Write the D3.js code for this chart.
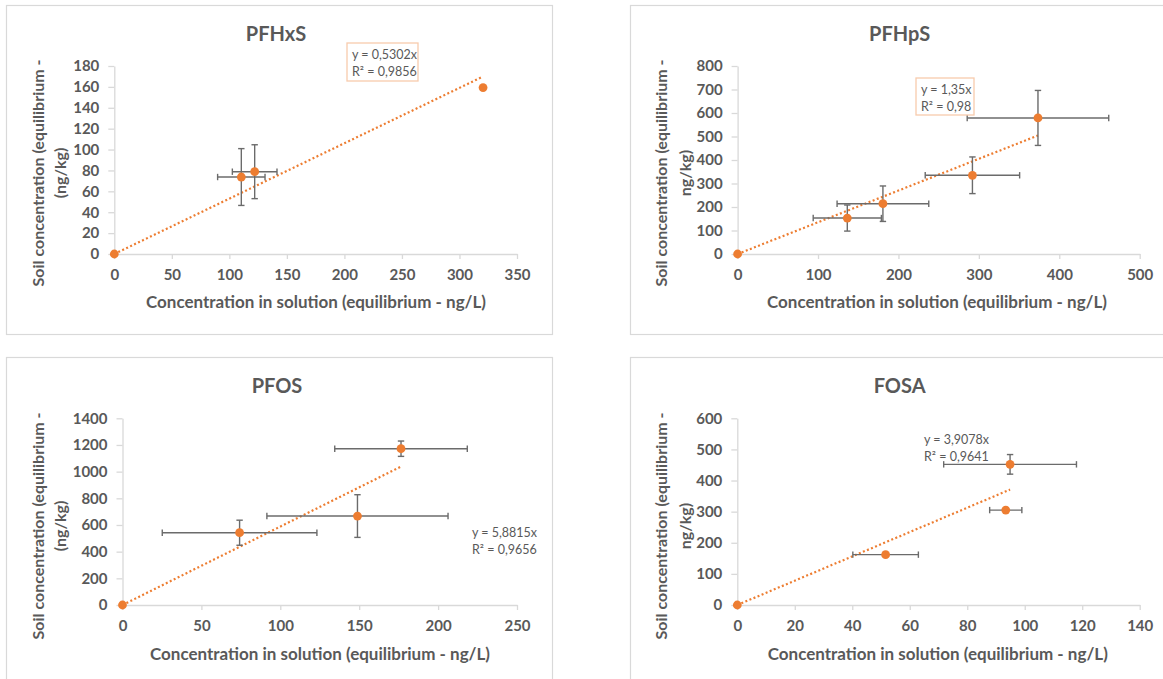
<!DOCTYPE html>
<html>
<head>
<meta charset="utf-8">
<script src="https://cdn.jsdelivr.net/npm/d3@7"></script>
<style>
  html, body { margin: 0; padding: 0; background: #ffffff; }
  svg { display: block; font-family: Lato, "Open Sans", sans-serif; }
</style>
</head>
<body>
<svg id="chart" width="1163" height="679"></svg>
<script>
// ---- Data -------------------------------------------------------------
const panelTitles = ["PFHxS", "PFHpS", "PFOS", "FOSA"];

// PFHxS
const pfhxsX    = [0, 110.4, 122.0, 320.5];
const pfhxsY    = [0, 73.7, 78.8, 159.3];
const pfhxsXErr = [0, 20.6, 19.4, 0];
const pfhxsYErr = [0, 27.2, 25.8, 0];

// PFHpS
const pfhpsX    = [0, 136.4, 180.7, 292.0, 373.5];
const pfhpsY    = [0, 153, 214, 335, 579];
const pfhpsXErr = [0, 42.4, 57.0, 58.7, 88.0];
const pfhpsYErr = [0, 55.5, 75.5, 78.0, 117.0];

// PFOS
const pfosX    = [0, 74.2, 148.9, 176.5];
const pfosY    = [0, 542, 667, 1172];
const pfosXErr = [0, 49.0, 57.4, 42.0];
const pfosYErr = [0, 94, 160, 57.5];

// FOSA
const fosaX    = [0, 51.6, 93.4, 94.9];
const fosaY    = [0, 161.8, 305, 452];
const fosaXErr = [0, 11.4, 5.6, 23.1];
const fosaYErr = [0, 0, 0, 31.5];

// Linear fits through the origin
const slopes      = [0.5302, 1.35, 5.8815, 3.9078];
const slopeLabels = ["0,5302", "1,35", "5,8815", "3,9078"];
const r2Labels    = ["0,9856", "0,98", "0,9656", "0,9641"];

// Axis ticks
const pfhxsXTicks = [0, 50, 100, 150, 200, 250, 300, 350];
const pfhxsYTicks = [0, 20, 40, 60, 80, 100, 120, 140, 160, 180];
const pfhpsXTicks = [0, 100, 200, 300, 400, 500];
const pfhpsYTicks = [0, 100, 200, 300, 400, 500, 600, 700, 800];
const pfosXTicks  = [0, 50, 100, 150, 200, 250];
const pfosYTicks  = [0, 200, 400, 600, 800, 1000, 1200, 1400];
const fosaXTicks  = [0, 20, 40, 60, 80, 100, 120, 140];
const fosaYTicks  = [0, 100, 200, 300, 400, 500, 600];

// Axis titles
const xTitle = "Concentration in solution (equilibrium - ng/L)";
const yTitleLine1 = "Soil concentration (equilibrium -";
const yTitleLine2 = ["(ng/kg)", "ng/kg)", "(ng/kg)", "ng/kg)"];

// ---- Layout -----------------------------------------------------------
const ORANGE = "#ED7D31";
const TEXT = "#595959";
const AXIS = "#d9d9d9";
const ERR = "#6b6b6b";

const panels = [
  { title: panelTitles[0], xs: pfhxsX, ys: pfhxsY, xe: pfhxsXErr, ye: pfhxsYErr,
    xTicks: pfhxsXTicks, yTicks: pfhxsYTicks, slope: slopes[0],
    eq: [slopeLabels[0], r2Labels[0]], y2: yTitleLine2[0],
    frame: [6.5, 5.5, 546, 329], plot: [114.3, 517, 254, 66],
    titleX: 276, titleY: 33, yt1: 37.5, yt2: 59, ytY: 173, xtX: 316, xtY: 301,
    eqX: 352, eqY: 54, box: [347, 43, 71, 38] },
  { title: panelTitles[1], xs: pfhpsX, ys: pfhpsY, xe: pfhpsXErr, ye: pfhpsYErr,
    xTicks: pfhpsXTicks, yTicks: pfhpsYTicks, slope: slopes[1],
    eq: [slopeLabels[1], r2Labels[1]], y2: yTitleLine2[1],
    frame: [630.5, 5.5, 560, 329], plot: [737.6, 1139.7, 254, 66],
    titleX: 899.6, titleY: 33, yt1: 660.8, yt2: 684, ytY: 173, xtX: 937, xtY: 301,
    eqX: 921, eqY: 89, box: [916, 78, 58, 37] },
  { title: panelTitles[2], xs: pfosX, ys: pfosY, xe: pfosXErr, ye: pfosYErr,
    xTicks: pfosXTicks, yTicks: pfosYTicks, slope: slopes[2],
    eq: [slopeLabels[2], r2Labels[2]], y2: yTitleLine2[2],
    frame: [6.5, 357.5, 546, 340], plot: [122.5, 517, 605, 418.3],
    titleX: 277, titleY: 385, yt1: 37.5, yt2: 59, ytY: 526, xtX: 320, xtY: 653,
    eqX: 472, eqY: 532, box: null },
  { title: panelTitles[3], xs: fosaX, ys: fosaY, xe: fosaXErr, ye: fosaYErr,
    xTicks: fosaXTicks, yTicks: fosaYTicks, slope: slopes[3],
    eq: [slopeLabels[3], r2Labels[3]], y2: yTitleLine2[3],
    frame: [630.5, 357.5, 560, 340], plot: [737.3, 1139.7, 605, 418.3],
    titleX: 899.6, titleY: 385, yt1: 660, yt2: 684, ytY: 526, xtX: 937.8, xtY: 653,
    eqX: 924, eqY: 439, box: null }
];

const svg = d3.select("#chart");
const fmt = d3.format("d");

panels.forEach(p => {
  const g = svg.append("g");

  // chart frame
  g.append("rect")
    .attr("x", p.frame[0]).attr("y", p.frame[1])
    .attr("width", p.frame[2]).attr("height", p.frame[3])
    .attr("fill", "#fff").attr("stroke", AXIS).attr("stroke-width", 1.2);

  const x = d3.scaleLinear()
    .domain([p.xTicks[0], p.xTicks[p.xTicks.length - 1]])
    .range([p.plot[0], p.plot[1]]);
  const y = d3.scaleLinear()
    .domain([p.yTicks[0], p.yTicks[p.yTicks.length - 1]])
    .range([p.plot[2], p.plot[3]]);

  // axes
  const xAxis = g.append("g")
    .attr("transform", `translate(0,${p.plot[2]})`)
    .call(d3.axisBottom(x).tickValues(p.xTicks).tickFormat(fmt)
      .tickSize(5).tickSizeOuter(0).tickPadding(10));
  const yAxis = g.append("g")
    .attr("transform", `translate(${p.plot[0]},0)`)
    .call(d3.axisLeft(y).tickValues(p.yTicks).tickFormat(fmt)
      .tickSize(6).tickSizeOuter(0).tickPadding(9));
  [xAxis, yAxis].forEach(a => {
    a.select(".domain").attr("stroke", AXIS).attr("stroke-width", 1.3);
    a.selectAll(".tick line").attr("stroke", AXIS).attr("stroke-width", 1.3);
    a.selectAll(".tick text")
      .attr("fill", TEXT).style("font-size", "15px").style("font-weight", "bold")
      .style("font-family", "Lato, sans-serif");
  });

  // title
  g.append("text")
    .attr("x", p.titleX).attr("y", p.titleY)
    .attr("text-anchor", "middle").attr("dominant-baseline", "central")
    .attr("fill", TEXT).style("font-size", "20px").style("font-weight", "bold")
    .text(p.title);

  // axis titles
  g.append("text")
    .attr("x", p.xtX).attr("y", p.xtY)
    .attr("text-anchor", "middle").attr("dominant-baseline", "central")
    .attr("fill", TEXT).style("font-size", "17px").style("font-weight", "bold")
    .text(xTitle);
  [[p.yt1, yTitleLine1], [p.yt2, p.y2]].forEach(([cx, t]) => {
    g.append("text")
      .attr("transform", `translate(${cx},${p.ytY}) rotate(-90)`)
      .attr("text-anchor", "middle").attr("dominant-baseline", "central")
      .attr("fill", TEXT).style("font-size", "16px").style("font-weight", "bold")
      .text(t);
  });

  // trendline (through origin up to the largest concentration)
  const xMax = d3.max(p.xs);
  g.append("path")
    .attr("d", d3.line().x(d => x(d[0])).y(d => y(d[1]))([[0, 0], [xMax, p.slope * xMax]]))
    .attr("fill", "none").attr("stroke", ORANGE).attr("stroke-width", 2.2)
    .attr("stroke-dasharray", "2,2.4");

  // error bars
  const pts = p.xs.map((v, i) => ({ x: v, y: p.ys[i], xe: p.xe[i], ye: p.ye[i] }));
  const cap = 3.2;
  const eb = g.append("g").attr("stroke", ERR).attr("stroke-width", 1.4).attr("fill", "none");
  pts.forEach(d => {
    if (d.xe > 0) {
      const x0 = x(d.x - d.xe), x1 = x(d.x + d.xe), yy = y(d.y);
      eb.append("line").attr("x1", x0).attr("x2", x1).attr("y1", yy).attr("y2", yy);
      eb.append("line").attr("x1", x0).attr("x2", x0).attr("y1", yy - cap).attr("y2", yy + cap);
      eb.append("line").attr("x1", x1).attr("x2", x1).attr("y1", yy - cap).attr("y2", yy + cap);
    }
    if (d.ye > 0) {
      const y0 = y(d.y - d.ye), y1 = y(d.y + d.ye), xx = x(d.x);
      eb.append("line").attr("x1", xx).attr("x2", xx).attr("y1", y0).attr("y2", y1);
      eb.append("line").attr("x1", xx - cap).attr("x2", xx + cap).attr("y1", y0).attr("y2", y0);
      eb.append("line").attr("x1", xx - cap).attr("x2", xx + cap).attr("y1", y1).attr("y2", y1);
    }
  });

  // markers
  g.selectAll("circle.pt").data(pts).enter().append("circle")
    .attr("class", "pt")
    .attr("cx", d => x(d.x)).attr("cy", d => y(d.y)).attr("r", 4.4)
    .attr("fill", ORANGE);

  // equation label
  if (p.box) {
    g.append("rect")
      .attr("x", p.box[0]).attr("y", p.box[1]).attr("width", p.box[2]).attr("height", p.box[3])
      .attr("fill", "#fff").attr("stroke", "#F8CBAD").attr("stroke-width", 1.3);
  }
  const eqText = g.append("text")
    .attr("fill", TEXT).style("font-size", "12.5px")
    .attr("dominant-baseline", "central");
  eqText.append("tspan").attr("x", p.eqX).attr("y", p.eqY).text(`y = ${p.eq[0]}x`);
  eqText.append("tspan").attr("x", p.eqX).attr("y", p.eqY + 16.5).text(`R² = ${p.eq[1]}`);
});
</script>
</body>
</html>
